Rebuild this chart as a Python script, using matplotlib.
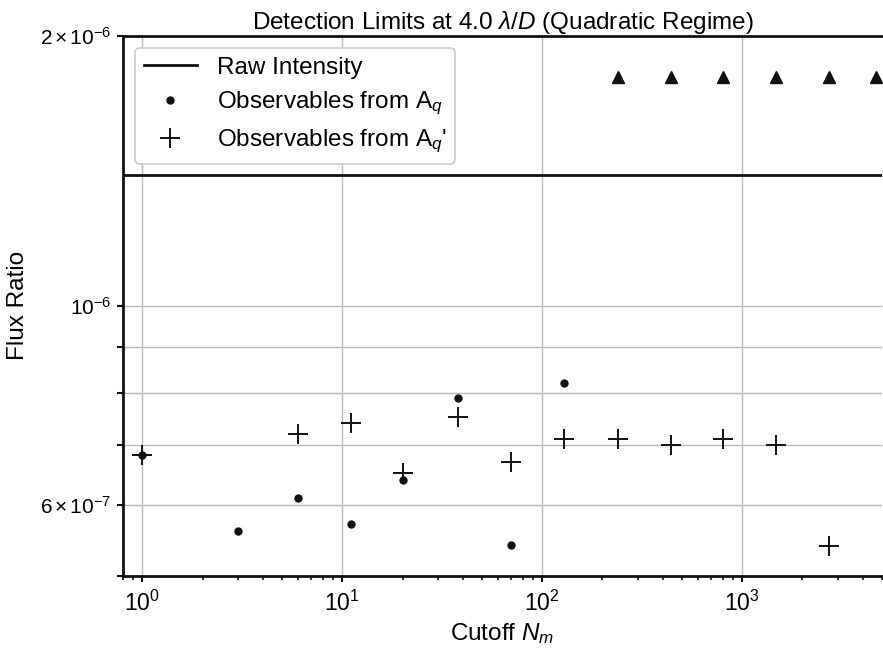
import matplotlib
matplotlib.use("Agg")
import matplotlib.pyplot as plt
from matplotlib.ticker import FixedLocator, FixedFormatter, LogLocator, NullFormatter

plt.rcParams['font.family'] = ['Liberation Sans', 'DejaVu Sans']
plt.rcParams['mathtext.fontset'] = 'custom'
plt.rcParams['mathtext.rm'] = 'Liberation Sans'
plt.rcParams['mathtext.it'] = 'Liberation Sans:italic'
plt.rcParams['mathtext.bf'] = 'Liberation Sans:bold'

# Data
raw_intensity = 1.40e-6
aq_x = [1, 3, 6, 11, 20, 38, 70, 129]
aq_y = [6.81e-7, 5.61e-7, 6.10e-7, 5.71e-7, 6.40e-7, 7.90e-7, 5.41e-7, 8.21e-7]
aqp_x = [1, 6, 11, 20, 38, 70, 129, 238, 440, 804, 1479, 2723]
aqp_y = [6.81e-7, 7.20e-7, 7.41e-7, 6.51e-7, 7.51e-7, 6.70e-7, 7.10e-7, 7.10e-7,
         7.00e-7, 7.10e-7, 7.00e-7, 5.40e-7]
off_x = [238, 440, 804, 1479, 2723, 4650]
off_y = [1.8e-6] * len(off_x)

ytick_vals = [6e-7, 1e-6, 2e-6]
ytick_labels = [r'$6\,{\times}\,10^{-7}$', r'$10^{-6}$', r'$2\,{\times}\,10^{-6}$']
yminor_vals = [5e-7, 7e-7, 8e-7, 9e-7]

fig = plt.figure(figsize=(8.83, 6.5), dpi=100)
ax = fig.add_axes([123/883, 1 - 575.7/650, 759/883, (575.7 - 36)/650])

ax.set_xscale('log')
ax.set_yscale('log')

ax.axhline(raw_intensity, color='#111111', lw=2, label='Raw Intensity', zorder=3)
ax.plot(aq_x, aq_y, 'o', color='#111111', ms=5, ls='none',
        label=r'Observables from A$_q$', zorder=4)
ax.plot(aqp_x, aqp_y, '+', color='#111111', ms=15, mew=1.4, ls='none',
        label=r"Observables from A$_q$'", zorder=4)
ax.plot(off_x, off_y, '^', color='#111111', ms=9, ls='none', zorder=4, clip_on=True)

ax.set_xlim(0.8, 5000)
ax.set_ylim(5e-7, 2e-6)

ax.yaxis.set_major_locator(FixedLocator(ytick_vals))
ax.yaxis.set_major_formatter(FixedFormatter(ytick_labels))
ax.yaxis.set_minor_locator(FixedLocator(yminor_vals))
ax.yaxis.set_minor_formatter(NullFormatter())
ax.xaxis.set_major_locator(LogLocator(base=10))
ax.xaxis.set_minor_locator(LogLocator(base=10, subs=range(2, 10)))
ax.xaxis.set_minor_formatter(NullFormatter())

ax.grid(True, which='major', color='#b8b8b8', lw=1)
ax.grid(True, which='minor', axis='y', color='#b8b8b8', lw=1)
ax.set_axisbelow(True)

for s in ['left', 'bottom', 'top']:
    ax.spines[s].set_linewidth(2)
    ax.spines[s].set_color('#111111')
ax.spines['right'].set_visible(False)

ax.tick_params(axis='both', which='major', length=4.5, width=1.5, color='#111111', pad=6)
ax.tick_params(axis='y', which='minor', length=4.5, width=1.5, color='#111111')
ax.tick_params(axis='x', which='minor', length=3, width=1.2, color='#111111')
ax.tick_params(axis='y', which='major', labelsize=15, pad=4)
ax.tick_params(axis='x', which='major', labelsize=16.5, pad=6)

ax.set_title(r'Detection Limits at 4.0 $\lambda/D$ (Quadratic Regime)', fontsize=17.5, pad=5)
ax.set_xlabel(r'Cutoff $N_m$', fontsize=17.5, labelpad=4)
ax.set_ylabel('Flux Ratio', fontsize=17.5)
ax.yaxis.set_label_coords((29 - 123) / 759, 0.5)

leg = ax.legend(loc='upper left', fontsize=17.5, frameon=True, fancybox=True,
                edgecolor='#cccccc', framealpha=1, handlelength=2.2, borderpad=0.35,
                labelspacing=0.45, borderaxespad=0.5)
leg.get_frame().set_linewidth(1.2)

fig.savefig('out.png', dpi=100)
